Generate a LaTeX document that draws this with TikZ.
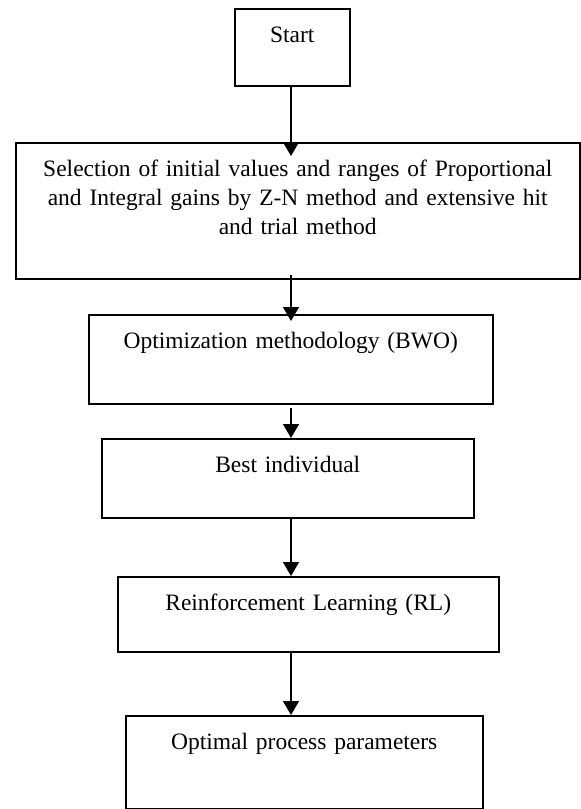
\documentclass[tikz,border=0pt]{standalone}
\usepackage{fontspec}
\setmainfont{Liberation Serif}
\usepackage{tikz}
\usetikzlibrary{arrows.meta}
\definecolor{fcInk}{HTML}{000000}
\tikzset{
  fc diagram/.style={font=\fontsize{11.75}{14.5}\selectfont, text=fcInk},
  fc box/.style 2 args={draw=fcInk, fill=white, line width=0.75pt,
    align=center, inner sep=0pt, anchor=north west,
    text width=#1, text height=16.75pt, text depth=#2},
  fc arrow/.style={-{Triangle[length=7pt,width=8pt]}, draw=fcInk, line width=0.8pt}
}
\begin{document}
\begin{tikzpicture}[fc diagram,x=0.5pt,y=-0.5pt]
\useasboundingbox (0,0) rectangle (580,809);
% boxes, placed by their top left corner
\node[fc box={57.5pt}{21.75pt}] (start) at (234,8) {Start};
\node[fc box={282pt}{51.25pt}] (select) at (15,142)
  {Selection of initial values and ranges of Proportional\\
   and Integral gains by Z-N method and extensive hit\\
   and trial method};
\node[fc box={202pt}{27.75pt}] (bwo) at (88,314) {Optimization methodology (BWO)};
\node[fc box={186pt}{22.75pt}] (best) at (101,438) {Best individual};
\node[fc box={190.5pt}{20.75pt}] (rl) at (117,576) {Reinforcement Learning (RL)};
\node[fc box={178.5pt}{29.75pt}] (params) at (125,715) {Optimal process parameters};
% arrows run down one vertical line
\coordinate (spine) at (291,0);
\draw[fc arrow, shorten >=-7pt] (start.south -| spine) -- (select.north -| spine);
\draw[fc arrow, shorten <=-2.5pt, shorten >=-3.5pt] (select.south -| spine) -- (bwo.north -| spine);
\draw[fc arrow, shorten <=1.5pt] (bwo.south -| spine) -- (best.north -| spine);
\draw[fc arrow] (best.south -| spine) -- (rl.north -| spine);
\draw[fc arrow] (rl.south -| spine) -- (params.north -| spine);
\end{tikzpicture}
\end{document}
